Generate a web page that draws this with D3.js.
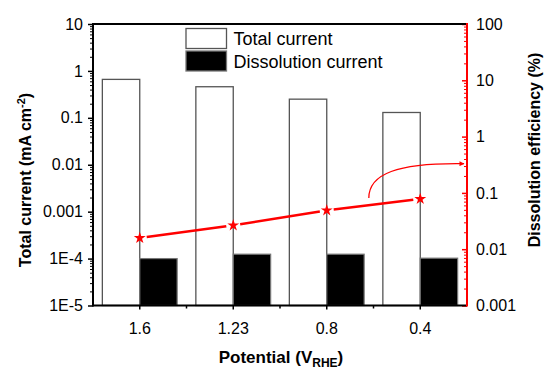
<!DOCTYPE html>
<html>
<head>
<meta charset="utf-8">
<script src="https://cdn.jsdelivr.net/npm/d3@7"></script>
<style>
  body { margin: 0; background: #fff; }
  text { font-family: "Liberation Sans", Arial, sans-serif; }
</style>
</head>
<body>
<div id="chart"></div>
<script>
// data
const potentials = ["1.6", "1.23", "0.8", "0.4"];
const totalCurrent = [0.66, 0.46, 0.25, 0.13];            // mA cm-2
const dissolutionCurrent = [1.0e-4, 1.24e-4, 1.24e-4, 1.02e-4];
const dissolutionEfficiency = [0.0158, 0.0265, 0.049, 0.078]; // %
const leftTicks = [1e-5, 1e-4, 1e-3, 1e-2, 0.1, 1, 10];
const leftTickLabels = ["1E-5", "1E-4", "0.001", "0.01", "0.1", "1", "10"];
const rightTicks = [0.001, 0.01, 0.1, 1, 10, 100];
const rightTickLabels = ["0.001", "0.01", "0.1", "1", "10", "100"];

const W = 545, H = 368;
const margin = { top: 24, left: 93, right: 78, bottom: 62.5 };
const width = W - margin.left - margin.right,
      height = H - margin.top - margin.bottom;

const svg = d3.select("#chart").append("svg")
  .attr("width", W).attr("height", H);
const g = svg.append("g")
  .attr("transform", `translate(${margin.left},${margin.top})`);

// scales
const x = d3.scaleBand().domain(potentials).range([0, width]).padding(0);
const yL = d3.scaleLog().domain([1e-5, 10]).range([height, 0]);
const yR = d3.scaleLog().domain([0.001, 100]).range([height, 0]);
const barW = x.bandwidth() * 0.4;
const cx = d => x(d) + x.bandwidth() / 2;

// bars
g.selectAll(".total").data(potentials).enter().append("rect")
  .attr("x", d => cx(d) - barW)
  .attr("y", (d, i) => yL(totalCurrent[i]))
  .attr("width", barW)
  .attr("height", (d, i) => height - yL(totalCurrent[i]))
  .attr("fill", "#fff").attr("stroke", "#555").attr("stroke-width", 1.3);

g.selectAll(".diss").data(potentials).enter().append("rect")
  .attr("x", d => cx(d))
  .attr("y", (d, i) => yL(dissolutionCurrent[i]))
  .attr("width", barW)
  .attr("height", (d, i) => height - yL(dissolutionCurrent[i]))
  .attr("fill", "#000").attr("stroke", "#777").attr("stroke-width", 1.2);

// efficiency line with gaps around symbols
const pts = potentials.map((d, i) => [cx(d), yR(dissolutionEfficiency[i])]);
const gap = 7;
for (let i = 0; i < pts.length - 1; i++) {
  const [x1, y1] = pts[i], [x2, y2] = pts[i + 1];
  const len = Math.hypot(x2 - x1, y2 - y1);
  const ux = (x2 - x1) / len, uy = (y2 - y1) / len;
  g.append("line")
    .attr("x1", x1 + ux * gap).attr("y1", y1 + uy * gap)
    .attr("x2", x2 - ux * gap).attr("y2", y2 - uy * gap)
    .attr("stroke", "#ff0000").attr("stroke-width", 2.5);
}
g.selectAll(".star").data(pts).enter().append("path")
  .attr("d", d3.symbol(d3.symbolStar, 44))
  .attr("transform", d => `translate(${d[0]},${d[1]})`)
  .attr("fill", "#ff0000");

// curved arrow pointing to the right axis
svg.append("defs").append("marker")
  .attr("id", "arr").attr("viewBox", "0 0 10 10")
  .attr("refX", 9).attr("refY", 5)
  .attr("markerWidth", 6).attr("markerHeight", 5)
  .attr("orient", "auto").attr("markerUnits", "userSpaceOnUse")
  .append("path").attr("d", "M0,0L10,5L0,10Z").attr("fill", "#ff0000");
const ax0 = x("0.8") + x.bandwidth() * 0.95, ay0 = yR(0.081);
const ax1 = width - 3, ay1 = yR(0.33);
g.append("path")
  .attr("d", `M${ax0},${ay0} C${ax0},${ay0 - 24} ${ax0 + 28},${ay1 - 1} ${ax1},${ay1}`)
  .attr("fill", "none").attr("stroke", "#ff0000").attr("stroke-width", 1.3)
  .attr("marker-end", "url(#arr)");

// left axis
const minorL = yL.ticks().filter(v => !leftTicks.some(t => Math.abs(t - v) / t < 1e-6));
g.append("g").call(d3.axisLeft(yL).tickValues(minorL).tickSize(3).tickFormat(""))
  .call(a => a.select(".domain").remove());
g.append("g").call(d3.axisLeft(yL).tickValues(leftTicks).tickSize(5).tickPadding(5)
    .tickFormat((d, i) => leftTickLabels[i]))
  .call(a => a.select(".domain").remove())
  .call(a => a.selectAll("line").attr("stroke-width", 1.5))
  .selectAll("text").attr("font-size", 16).attr("fill", "#000");

// right axis (red, ticks inward)
const minorR = yR.ticks().filter(v => !rightTicks.some(t => Math.abs(t - v) / t < 1e-6));
const right = g.append("g").attr("transform", `translate(${width},0)`);
right.append("g").call(d3.axisRight(yR).tickValues(minorR).tickSize(-3).tickFormat(""))
  .call(a => a.select(".domain").remove())
  .selectAll("line").attr("stroke", "#ff0000");
right.append("g").call(d3.axisRight(yR).tickValues(rightTicks).tickSize(-5).tickPadding(9)
    .tickFormat((d, i) => rightTickLabels[i]))
  .call(a => a.select(".domain").remove())
  .call(a => a.selectAll("line").attr("stroke", "#ff0000").attr("stroke-width", 1.5))
  .selectAll("text").attr("font-size", 16).attr("fill", "#000");

// bottom axis
const bottom = g.append("g").attr("transform", `translate(0,${height})`);
bottom.append("g").call(d3.axisBottom(x).tickSize(4).tickPadding(13))
  .call(a => a.select(".domain").remove())
  .call(a => a.selectAll("line").attr("stroke-width", 1.5))
  .selectAll("text").attr("font-size", 16).attr("fill", "#000");
bottom.selectAll(".edge").data(potentials.slice(1)).enter().append("line")
  .attr("x1", d => x(d)).attr("x2", d => x(d))
  .attr("y1", 0).attr("y2", 3)
  .attr("stroke", "#000").attr("stroke-width", 1.5);

// frame
g.append("line").attr("x1", 0).attr("x2", width).attr("y1", 0).attr("y2", 0)
  .attr("stroke", "#000").attr("stroke-width", 2);
g.append("line").attr("x1", 0).attr("x2", width).attr("y1", height).attr("y2", height)
  .attr("stroke", "#000").attr("stroke-width", 2);
g.append("line").attr("x1", 0).attr("x2", 0).attr("y1", -1).attr("y2", height + 1)
  .attr("stroke", "#000").attr("stroke-width", 2);
g.append("line").attr("x1", width).attr("x2", width).attr("y1", -1).attr("y2", height + 1)
  .attr("stroke", "#ff0000").attr("stroke-width", 2);

// legend
const legend = svg.append("g").attr("transform", "translate(186,28.5)");
const legendItems = [
  { label: "Total current", fill: "#fff", stroke: "#555" },
  { label: "Dissolution current", fill: "#000", stroke: "#777" }
];
legendItems.forEach((d, i) => {
  legend.append("rect")
    .attr("x", 0).attr("y", i * 22.5)
    .attr("width", 40.5).attr("height", 20)
    .attr("fill", d.fill).attr("stroke", d.stroke).attr("stroke-width", 1.3);
  legend.append("text")
    .attr("x", 47.5).attr("y", i * 22.5 + 16.5)
    .attr("font-size", 18).attr("fill", "#000")
    .text(d.label);
});

// axis titles
const yTitle = svg.append("text")
  .attr("transform", "translate(30.5,180) rotate(-90)")
  .attr("text-anchor", "middle").attr("font-size", 16).attr("font-weight", "bold");
yTitle.append("tspan").text("Total current (mA cm");
yTitle.append("tspan").attr("font-size", 11).attr("dy", -6).text("-2");
yTitle.append("tspan").attr("dy", 6).text(")");

svg.append("text")
  .attr("transform", "translate(540,150) rotate(-90)")
  .attr("text-anchor", "middle").attr("font-size", 16).attr("font-weight", "bold")
  .text("Dissolution efficiency (%)");

const xTitle = svg.append("text")
  .attr("x", 281).attr("y", 362.5)
  .attr("text-anchor", "middle").attr("font-size", 17).attr("font-weight", "bold");
xTitle.append("tspan").text("Potential (V");
xTitle.append("tspan").attr("font-size", 12).attr("dy", 4).text("RHE");
xTitle.append("tspan").attr("dy", -4).text(")");
</script>
</body>
</html>
